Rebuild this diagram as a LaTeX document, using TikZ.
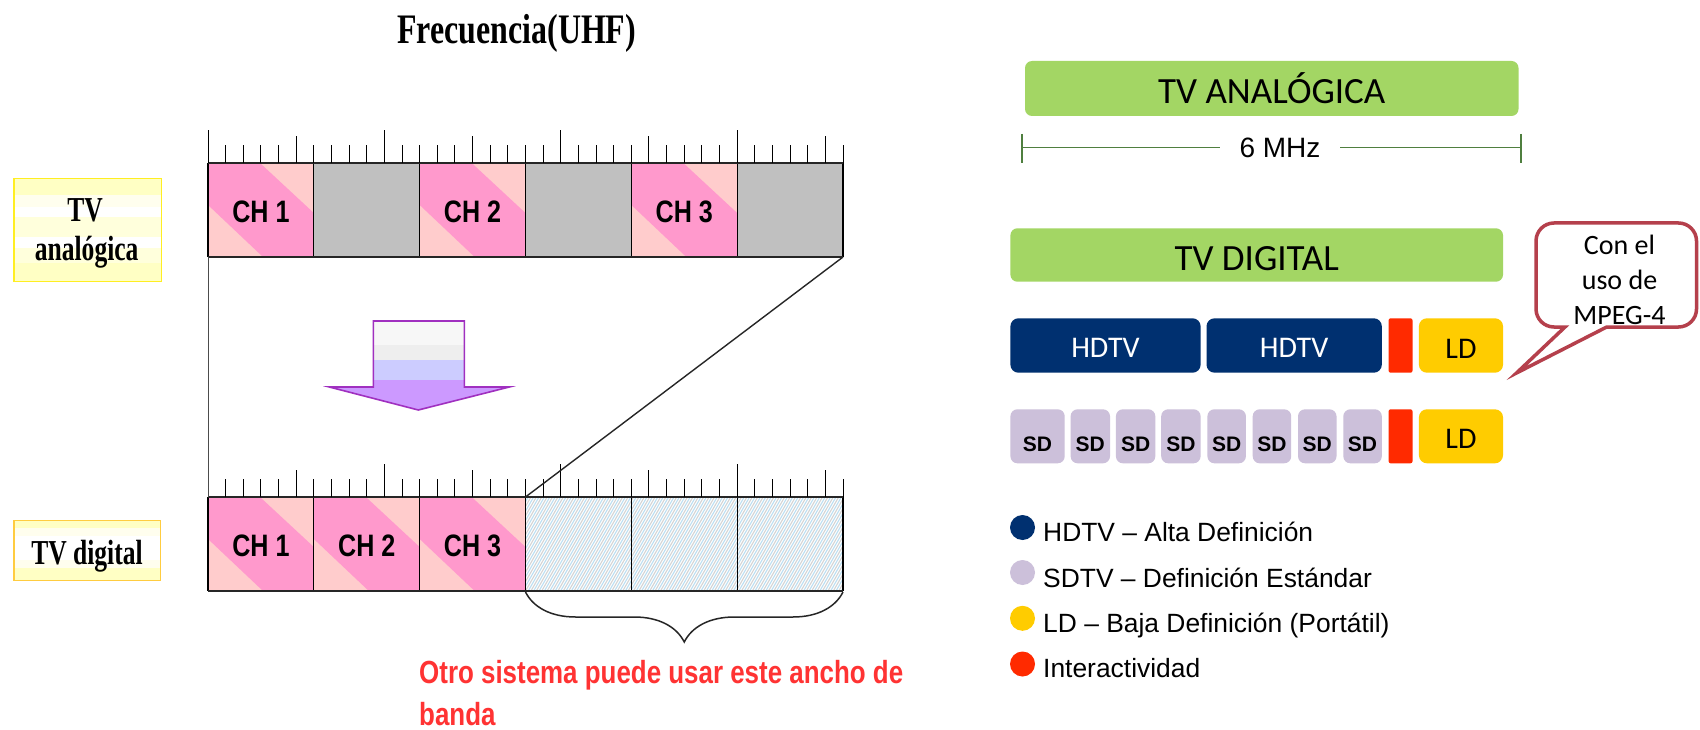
\documentclass[tikz,border=0pt]{standalone}
\usepackage{fontspec}
\setmainfont{Liberation Sans}
\newfontfamily\carl{Carlito}
\newfontfamily\narrowsans{Liberation Sans}[FakeStretch=0.81]
\newfontfamily\narrowserif{Liberation Serif}[FakeStretch=0.76]
\newfontfamily\labserif{Liberation Serif}[FakeStretch=0.73]
\usetikzlibrary{decorations.pathreplacing}
\definecolor{pinkD}{HTML}{FF99CC}
\definecolor{pinkL}{HTML}{FFCCCC}
\definecolor{cellgray}{HTML}{C0C0C0}
\definecolor{tvgreen}{HTML}{A3D664}
\definecolor{navy}{HTML}{003070}
\definecolor{sdlav}{HTML}{CCC0DA}
\definecolor{ldyel}{HTML}{FFCC00}
\definecolor{intred}{HTML}{FF2A00}
\definecolor{calloutred}{HTML}{B5404C}
\definecolor{dimgreen}{HTML}{4F7F3F}
\definecolor{redtxt}{HTML}{FF3333}
\definecolor{arrowline}{HTML}{A030C0}
\definecolor{arA}{HTML}{F7F7F7}
\definecolor{arB}{HTML}{EEEEEE}
\definecolor{arC}{HTML}{CCCCFF}
\definecolor{arD}{HTML}{CC99FF}
\definecolor{lyA}{HTML}{FFFFC4}
\definecolor{lyB}{HTML}{FFFFDC}
\definecolor{lyC}{HTML}{FFFEEE}
\definecolor{labyellow}{HTML}{FFEE22}
\definecolor{laborange}{HTML}{FFCC40}
\definecolor{hatchgray}{HTML}{D4D4D4}
\definecolor{hatchblue}{HTML}{BCDFF2}
\tikzset{
  tickline/.style={line width=1pt, black},
  barline/.style={line width=1.8pt, black!85},
  divline/.style={line width=1.1pt, black},
  chlabel/.style={font=\narrowsans\bfseries\fontsize{31}{36}\selectfont, inner sep=0pt},
  labfont/.style={font=\labserif\bfseries\fontsize{35}{40}\selectfont, inner sep=0pt},
  greenbox/.style={fill=tvgreen, rounded corners=7pt, inner sep=0pt, text height=31pt, text depth=0pt,
    font=\carl\fontsize{37}{44}\selectfont},
  hdbox/.style={fill=navy, text=white, rounded corners=8pt, inner sep=0pt, minimum height=54.4pt,
    text height=23.3pt, text depth=0pt, font=\carl\fontsize{30}{36}\selectfont},
  ldbox/.style={fill=ldyel, rounded corners=8pt, inner sep=0pt,
    text height=25pt, text depth=0pt, font=\carl\fontsize{30}{36}\selectfont, minimum width=84.1pt},
  redbar/.style={fill=intred, rounded corners=2pt, inner sep=0pt, minimum width=23.9pt},
  sdbox/.style={fill=sdlav, rounded corners=7pt, inner sep=0pt, minimum height=54pt,
    text height=31pt, text depth=0pt, font=\bfseries\fontsize{21}{25}\selectfont},
  legtext/.style={anchor=base west, inner sep=0pt, font=\fontsize{26.4}{31}\selectfont},
  dimline/.style={line width=1.8pt, dimgreen},
}
\newcommand\ChCell[4]{%
  \fill[pinkL] (#1,#2) rectangle ++(105.833,94);
  \fill[pinkD] (#1,#2) -- ++(52,0) -- ++(53.833,50) -- ++(0,44) -- ++(-50.833,0) -- ++(-55,-52) -- cycle;
  \node[chlabel] (#4) at ({#1+52.9},{#2+49}) {#3};
}
\begin{document}
\begin{tikzpicture}[x=1pt,y=-1pt]
\useasboundingbox (0,0) rectangle (1700,730);
\fill[white] (0,0) rectangle (1700,730);

% title
\node[font=\narrowserif\bfseries\fontsize{42}{48}\selectfont, anchor=base, inner sep=0pt] (title) at (516.7,43.3) {Frecuencia(UHF)};

% left labels
\foreach \ua/\ub/\cc in {178.3/195/lyA, 195/207/lyC, 207/217/white, 217/237/lyB, 237/248/white, 248/263/lyB, 263/281.7/lyA}
  \fill[\cc] (14,\ua) rectangle (161.7,\ub);
\draw[line width=1.5pt, labyellow] (14,178.3) rectangle (161.7,281.7);
\node[labfont, anchor=base] (labTV) at (85,221.7) {TV};
\node[labfont, anchor=base] (labAn) at (86.7,260) {analógica};

\foreach \ua/\ub/\cc in {520.7/528/lyA, 528/536/lyC, 536/560/white, 560/568/lyC, 568/580.7/lyA}
  \fill[\cc] (14,\ua) rectangle (160.7,\ub);
\draw[line width=1.5pt, laborange] (14,520.7) rectangle (160.7,580.7);
\node[labfont, anchor=base] (labDig) at (87,564.3) {TV digital};

% top bar cells
\ChCell{208}{163}{CH 1}{tch1}
\fill[cellgray] (313.833,163) rectangle (419.667,257);
\ChCell{419.667}{163}{CH 2}{tch2}
\fill[cellgray] (525.5,163) rectangle (631.333,257);
\ChCell{631.333}{163}{CH 3}{tch3}
\fill[cellgray] (737.167,163) rectangle (843,257);
\foreach \xx in {313.833,419.667,525.5,631.333,737.167}
  \draw[divline] (\xx,163) -- (\xx,257);
\draw[divline] (208,163) -- (208,257);
\draw[divline] (843,163) -- (843,257);
\draw[barline] (208,163) -- (843,163);
\draw[barline] (208,257) -- (843,257);

% bottom bar cells
\ChCell{208}{497}{CH 1}{bch1}
\ChCell{313.833}{497}{CH 2}{bch2}
\ChCell{419.667}{497}{CH 3}{bch3}
\begin{scope}
  \clip (525.5,497) rectangle (843,591);
  \foreach \k in {0,...,70}{
    \draw[hatchgray, line width=1.1pt] ({471.5+\k*5.4},591) -- ++(54,-94);
    \draw[hatchblue, line width=1.1pt] ({474.2+\k*5.4},591) -- ++(54,-94);
  }
\end{scope}
\foreach \xx in {313.833,419.667,525.5,631.333,737.167}
  \draw[divline] (\xx,497) -- (\xx,591);
\draw[divline] (208,497) -- (208,591);
\draw[divline] (843,497) -- (843,591);
\draw[barline] (208,497) -- (843,497);
\draw[barline] (208,591) -- (843,591);

% ticks
\foreach \i in {0,...,36}{
  \pgfmathsetmacro\tx{208+\i*17.6389}
  \pgfmathsetmacro\th{ifthenelse(mod(\i,10)==0,33,ifthenelse(mod(\i,5)==0,27,18))}
  \draw[tickline] (\tx,163) -- (\tx,{163-\th});
  \draw[tickline] (\tx,497) -- (\tx,{497-\th});
}

% connectors between bars
\coordinate (tbl) at (208,257);
\coordinate (tbr) at (843,257);
\coordinate (bbl) at (208,497);
\coordinate (bhs) at (525.5,497);
\coordinate (brs) at (525.5,592);
\coordinate (bre) at (843,592);
\draw[line width=1pt, black!70] (tbl) -- (bbl);
\draw[line width=1.4pt, black!85] (tbr) -- (bhs);

% brace
\draw[line width=1.5pt, black!85, decorate, decoration={brace, mirror, amplitude=50pt}] (brs) -- (bre);

% red text
\node[font=\narrowsans\bfseries\fontsize{32}{40}\selectfont, text=redtxt, anchor=base west, inner sep=0pt] (red1) at (419,683.3) {Otro sistema puede usar este ancho de};
\node[font=\narrowsans\bfseries\fontsize{32}{40}\selectfont, text=redtxt, anchor=base west, inner sep=0pt] (red2) at (419,725) {banda};

% purple arrow
\begin{scope}
  \clip (373.3,321) -- (464.3,321) -- (464.3,387) -- (509.3,387) -- (418.3,410) -- (329.3,387) -- (373.3,387) -- cycle;
  \fill[arA] (320,321) rectangle (520,345);
  \fill[arB] (320,345) rectangle (520,360);
  \fill[arC] (320,360) rectangle (520,380);
  \fill[arD] (320,380) rectangle (520,412);
\end{scope}
\draw[line width=1.6pt, arrowline, line join=miter] (373.3,321) -- (464.3,321) -- (464.3,387) -- (509.3,387) -- (418.3,410) -- (329.3,387) -- (373.3,387) -- cycle;

% right side: analog
\node[greenbox, minimum width=493.5pt, minimum height=55pt] (tva) at (1271.75,88.5) {TV ANALÓGICA};
\coordinate (dl) at (1022,147.5);
\coordinate (dr) at (1521,147.5);
\node[font=\fontsize{28}{34}\selectfont, inner xsep=19pt, inner ysep=0pt] (mhz) at (1280,148.3) {6 MHz};
\draw[dimline] (1022,134) -- (1022,163);
\draw[dimline] (1521,134) -- (1521,163);
\draw[dimline] (dl) -- (dl -| mhz.west);
\draw[dimline] (dr) -- (dr -| mhz.east);

% digital
\node[greenbox, minimum width=492.6pt, minimum height=53.4pt] (tvd) at (1256.7,255) {TV DIGITAL};
\node[hdbox, minimum width=190.2pt] (hd1) at (1105.5,345.5) {HDTV};
\node[hdbox, minimum width=175.3pt] (hd2) at (1294.15,345.5) {HDTV};
\node[redbar, minimum height=54.4pt] (rb1) at (1400.55,345.5) {};
\node[ldbox, minimum height=54.4pt] (ld1) at (1460.95,345.5) {LD};

\node[sdbox, minimum width=54.3pt] (sd1) at (1037.55,436.3) {SD};
\node[sdbox, minimum width=39.4pt] (sd2) at (1090.3,436.3) {SD};
\node[sdbox, minimum width=39.4pt] (sd3) at (1135.6,436.3) {SD};
\node[sdbox, minimum width=39.4pt] (sd4) at (1180.9,436.3) {SD};
\node[sdbox, minimum width=38.5pt] (sd5) at (1226.65,436.3) {SD};
\node[sdbox, minimum width=38.5pt] (sd6) at (1271.95,436.3) {SD};
\node[sdbox, minimum width=38.5pt] (sd7) at (1317.25,436.3) {SD};
\node[sdbox, minimum width=38.5pt] (sd8) at (1362.55,436.3) {SD};
\node[redbar, minimum height=54pt] (rb2) at (1400.55,436.3) {};
\node[ldbox, minimum height=54pt] (ld2) at (1460.95,436.3) {LD};

% callout
\coordinate (tip) at (1516.5,373);
\draw[line width=3.5pt, calloutred, fill=white, line join=miter]
  (tip) -- (1606.7,327) {[rounded corners=18pt] -- (1696.5,327) -- (1696.5,223) -- (1536,223) -- (1536,327)} -- (1565,327) -- cycle;
\node[align=center, font=\carl\fontsize{28}{35}\selectfont, inner sep=0pt] (note) at (1619.5,280) {Con el\\uso de\\MPEG-4};

% legend
\fill[navy] (1022.5,527.5) circle (12.5);
\node[legtext] (leg1) at (1043,541.7) {HDTV – Alta Definición};
\fill[sdlav] (1022.5,572.5) circle (12.5);
\node[legtext] (leg2) at (1043,587.2) {SDTV – Definición Estándar};
\fill[ldyel] (1022.5,618.3) circle (12.5);
\node[legtext] (leg3) at (1043,632.7) {LD – Baja Definición (Portátil)};
\fill[intred] (1022.5,664) circle (12.5);
\node[legtext] (leg4) at (1043,677.5) {Interactividad};
\end{tikzpicture}
\end{document}
